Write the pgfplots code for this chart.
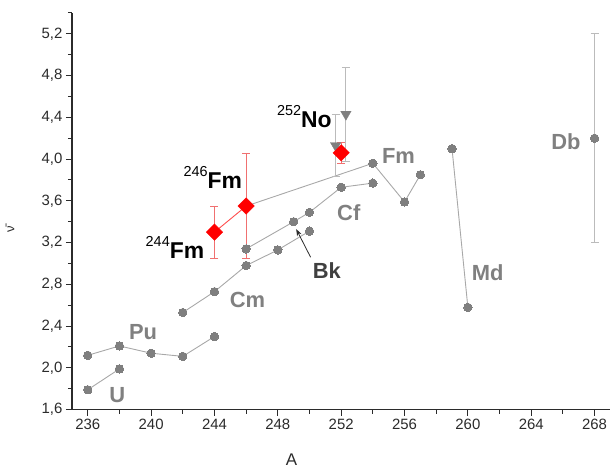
\documentclass[border=0pt]{standalone}
\usepackage{fontspec}
\setmainfont{Liberation Sans}
\usepackage{pgfplots}
\pgfplotsset{compat=1.18}
\usetikzlibrary{arrows.meta}
\definecolor{LineGray}{HTML}{A8A8A8}
\definecolor{MarkGray}{HTML}{7F7F7F}
\definecolor{ErrGray}{HTML}{BBBBBB}
\definecolor{LabGray}{HTML}{808080}
\definecolor{AxisDark}{HTML}{2B2B2B}
\definecolor{FmRed}{HTML}{FF0000}
\definecolor{ErrRed}{HTML}{F07070}
\tikzset{
  glab/.style={text=LabGray, font=\fontsize{22}{24}\selectfont\bfseries, inner sep=0pt},
  gline/.style={LineGray, line width=0.9bp, mark=*, mark size=4.2bp, mark options={fill=MarkGray, draw=MarkGray, line width=0pt}},
}

\begin{document}
\begin{tikzpicture}
  \begin{axis}[
    scale only axis,
    width=539bp, height=397bp,
    xmin=235, xmax=269, ymin=1.6, ymax=5.4,
    axis lines=left,
    axis line style={-, line width=1.2bp, AxisDark},
    xtick={236,240,...,268},
    minor xtick={238,242,...,266},
    ytick={1.6,2.0,2.4,2.8,3.2,3.6,4.0,4.4,4.8,5.2},
    minor ytick={1.8,2.2,2.6,3.0,3.4,3.8,4.2,4.6,5.0,5.4},
    tick align=outside,
    major tick length=6bp, minor tick length=4bp,
    tick style={line width=1bp, AxisDark},
    ticklabel style={font=\fontsize{15}{18}\selectfont, text=AxisDark},
    /pgf/number format/assume math mode=true,
    xticklabel style={/pgf/number format/.cd, fixed, precision=0, 1000 sep={}},
    yticklabel style={/pgf/number format/.cd, fixed, fixed zerofill, precision=1, use comma},
    xlabel={A}, ylabel={\=ν},
    every axis x label/.style={at={(axis description cs:0.408,-0.126)}, anchor=center, font=\fontsize{17}{20}\selectfont, text=AxisDark},
    every axis y label/.style={at={(axis description cs:-0.115,0.455)}, anchor=center, rotate=90, font=\fontsize{13}{16}\selectfont, text=AxisDark},
    error bars/error mark=-,
    clip=false,
  ]
    % U
    \addplot[gline] coordinates {(236,1.79) (238,1.99)};
    % Pu
    \addplot[gline] coordinates {(236,2.12) (238,2.21) (240,2.14) (242,2.11) (244,2.30)};
    % Cm
    \addplot[gline] coordinates {(242,2.53) (244,2.73) (246,2.98) (248,3.13) (250,3.31)};
    % Bk / Cf
    \addplot[gline] coordinates {(246,3.14) (249,3.40) (250,3.49) (252,3.73) (254,3.77)};
    % Fm
    \addplot[LineGray, line width=0.9bp] coordinates {(246,3.55) (254,3.96) (256,3.59) (257,3.85)};
    \addplot[gline, only marks] coordinates {(254,3.96) (256,3.59) (257,3.85)};
    % Md
    \addplot[gline] coordinates {(259,4.10) (260,2.58)};
    % Db
    \addplot[gline, only marks,
      error bars/.cd, y dir=both, y explicit,
      error bar style={ErrGray, line width=0.9bp},
      error mark options={rotate=90, ErrGray, mark size=4bp, line width=0.9bp}]
      coordinates {(268,4.20) +- (0,1.0)};
    % No (gray triangles)
    \addplot[only marks, mark=triangle*, mark size=6bp,
      mark options={rotate=180, fill=MarkGray, draw=MarkGray},
      error bars/.cd, y dir=both, y explicit,
      error bar style={ErrGray, line width=0.9bp},
      error mark options={rotate=90, ErrGray, mark size=4bp, line width=0.9bp}]
      coordinates {(251.65,4.13) +- (0,0.30) (252.3,4.43) +- (0,0.45)};
    % red: new data
    \addplot[FmRed!70, line width=0.9bp] coordinates {(244,3.30) (246,3.55)};
    \addplot[only marks, mark=square*, mark size=5.8bp,
      mark options={rotate=45, fill=FmRed, draw=FmRed},
      error bars/.cd, y dir=both, y explicit,
      error bar style={ErrRed, line width=0.9bp},
      error mark options={rotate=90, ErrRed, mark size=4bp, line width=0.9bp}]
      coordinates {(244,3.30) +- (0,0.25) (246,3.55) +- (0,0.50) (252,4.06) +- (0,0.10)};

    % labels
    \node[glab] at (axis cs:237.86,1.74) {U};
    \node[glab] at (axis cs:239.49,2.34) {Pu};
    \node[glab] at (axis cs:246.09,2.65) {Cm};
    \node[glab] at (axis cs:252.48,3.49) {Cf};
    \node[glab] at (axis cs:255.62,4.03) {Fm};
    \node[glab] at (axis cs:261.25,2.91) {Md};
    \node[glab] at (axis cs:266.19,4.17) {Db};
    \node[glab, text=AxisDark!90] at (axis cs:251.09,2.93) {Bk};
    \draw[AxisDark, line width=0.8bp, -{Stealth[length=7bp,width=5bp]}]
      (axis cs:250.07,3.06) -- (axis cs:249.16,3.33);

    \node[anchor=base east, inner sep=0pt] at (axis cs:243.36,3.05)
      {\raisebox{12bp}{\fontsize{14.5}{16}\selectfont 244}{\fontsize{23}{26}\selectfont\bfseries Fm}};
    \node[anchor=base east, inner sep=0pt] at (axis cs:245.75,3.72)
      {\raisebox{12bp}{\fontsize{14.5}{16}\selectfont 246}{\fontsize{23}{26}\selectfont\bfseries Fm}};
    \node[anchor=base east, inner sep=0pt] at (axis cs:251.41,4.30)
      {\raisebox{12bp}{\fontsize{14.5}{16}\selectfont 252}{\fontsize{23}{26}\selectfont\bfseries No}};
  \end{axis}
  \path (current axis.south west) ++(-72bp,-58bp) coordinate (bbA);
  \path (current axis.north east) ++(0bp,13bp) coordinate (bbB);
  \useasboundingbox (bbA) rectangle (bbB);
\end{tikzpicture}
\end{document}
